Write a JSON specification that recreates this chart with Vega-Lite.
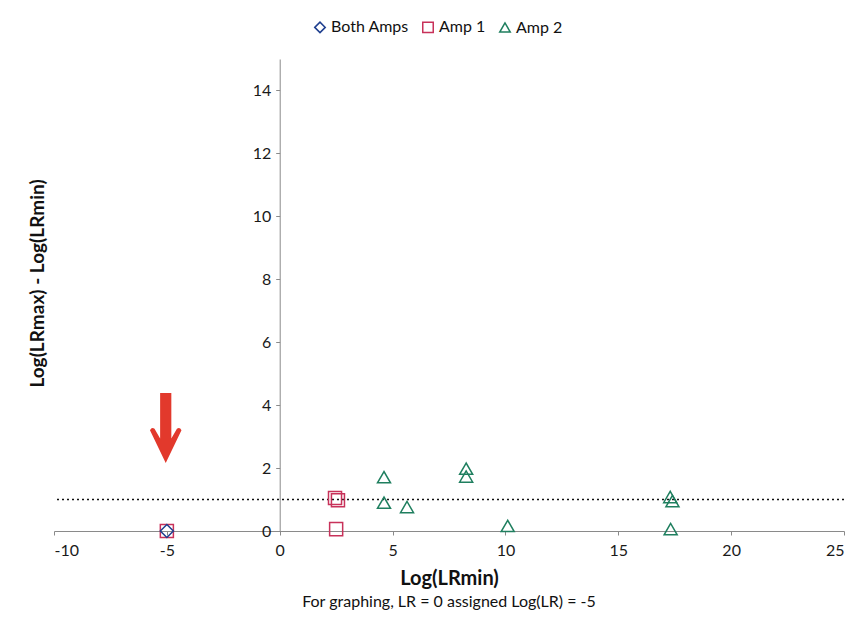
{
  "$schema": "https://vega.github.io/schema/vega-lite/v6.json",
  "autosize": "none",
  "width": 790,
  "height": 472,
  "padding": {"left": 54, "top": 59, "right": 11, "bottom": 101},
  "background": "white",
  "config": {
    "font": "Lato",
    "view": {"stroke": null},
    "axis": {"grid": false, "domainColor": "#8a8a8a", "tickColor": "#8a8a8a", "labelColor": "#1a1a1a", "titleColor": "#111", "labelExpr": "'' + datum.value"}
  },
  "title": {"text": "For graphing, LR = 0 assigned Log(LR) = -5", "orient": "bottom", "anchor": "middle", "fontSize": 16, "fontWeight": "normal", "color": "#111", "offset": 6},
  "datasets": {
    "points": [
      {"series": "Amp 1", "lrmin": -5, "diff": 0},
      {"series": "Both Amps", "lrmin": -5, "diff": 0},
      {"series": "Amp 1", "lrmin": 2.45, "diff": 1.05},
      {"series": "Amp 1", "lrmin": 2.58, "diff": 0.98},
      {"series": "Amp 1", "lrmin": 2.5, "diff": 0.06},
      {"series": "Amp 2", "lrmin": 4.62, "diff": 1.71},
      {"series": "Amp 2", "lrmin": 4.62, "diff": 0.9},
      {"series": "Amp 2", "lrmin": 5.64, "diff": 0.76},
      {"series": "Amp 2", "lrmin": 8.26, "diff": 1.98},
      {"series": "Amp 2", "lrmin": 8.26, "diff": 1.73},
      {"series": "Amp 2", "lrmin": 10.1, "diff": 0.16},
      {"series": "Amp 2", "lrmin": 17.3, "diff": 1.08},
      {"series": "Amp 2", "lrmin": 17.4, "diff": 0.95},
      {"series": "Amp 2", "lrmin": 17.32, "diff": 0.06}
    ],
    "threshold": [{"diff": 1}],
    "arrow": [{"lrmin": -5.05, "diff": 3.27}]
  },
  "layer": [
    {
      "data": {"name": "threshold"},
      "mark": {"type": "rule", "color": "#111", "strokeWidth": 1.5, "strokeDash": [2, 3]},
      "encoding": {
        "y": {"field": "diff", "type": "quantitative", "scale": {"domain": [0, 15]}}
      }
    },
    {
      "data": {"name": "points"},
      "mark": {"type": "point", "filled": false, "strokeWidth": 1.5, "size": 170, "fill": "white", "fillOpacity": 0},
      "encoding": {
        "x": {"field": "lrmin", "type": "quantitative", "scale": {"domain": [-10, 25], "nice": false, "zero": false},
          "axis": {"values": [-10, -5, 0, 5, 10, 15, 20, 25], "labelFontSize": 16, "title": "Log(LRmin)", "titleFontSize": 20, "titleFontWeight": "bold", "tickSize": 4, "labelPadding": 7, "titlePadding": 10}},
        "y": {"field": "diff", "type": "quantitative", "scale": {"domain": [0, 15], "nice": false},
          "axis": {"values": [0, 2, 4, 6, 8, 10, 12, 14], "labelFontSize": 16, "title": "Log(LRmax) - Log(LRmin)", "titleFontSize": 19, "titleFontWeight": "bold", "offset": -225.7, "tickSize": 4, "labelPadding": 5, "titleX": -242, "titleY": 224, "titleBaseline": "middle", "titleAngle": -90}},
        "color": {"field": "series", "type": "nominal",
          "scale": {"domain": ["Both Amps", "Amp 1", "Amp 2"], "range": ["#1f3f8f", "#c8325a", "#1f7f5f"]},
          "legend": {"title": null, "orient": "none", "legendX": 258, "legendY": -40, "direction": "horizontal", "labelFontSize": 16, "labelColor": "#111", "symbolStrokeWidth": 1.5, "symbolSize": 110, "columnPadding": 10, "labelOffset": 3}},
        "shape": {"field": "series", "type": "nominal",
          "scale": {"domain": ["Both Amps", "Amp 1", "Amp 2"], "range": ["diamond", "square", "triangle-up"]}}
      }
    },
    {
      "data": {"name": "arrow"},
      "mark": {"type": "point", "filled": true, "color": "#e2392c", "opacity": 1, "size": 4900,
        "shape": "M-0.16,-1 L0.16,-1 L0.16,0.3 L0.32,0.02 Q0.4,-0.04 0.45,0.06 L0,1 L-0.45,0.06 Q-0.4,-0.04 -0.32,0.02 L-0.16,0.3 Z"},
      "encoding": {
        "x": {"field": "lrmin", "type": "quantitative"},
        "y": {"field": "diff", "type": "quantitative"}
      }
    }
  ]
}
